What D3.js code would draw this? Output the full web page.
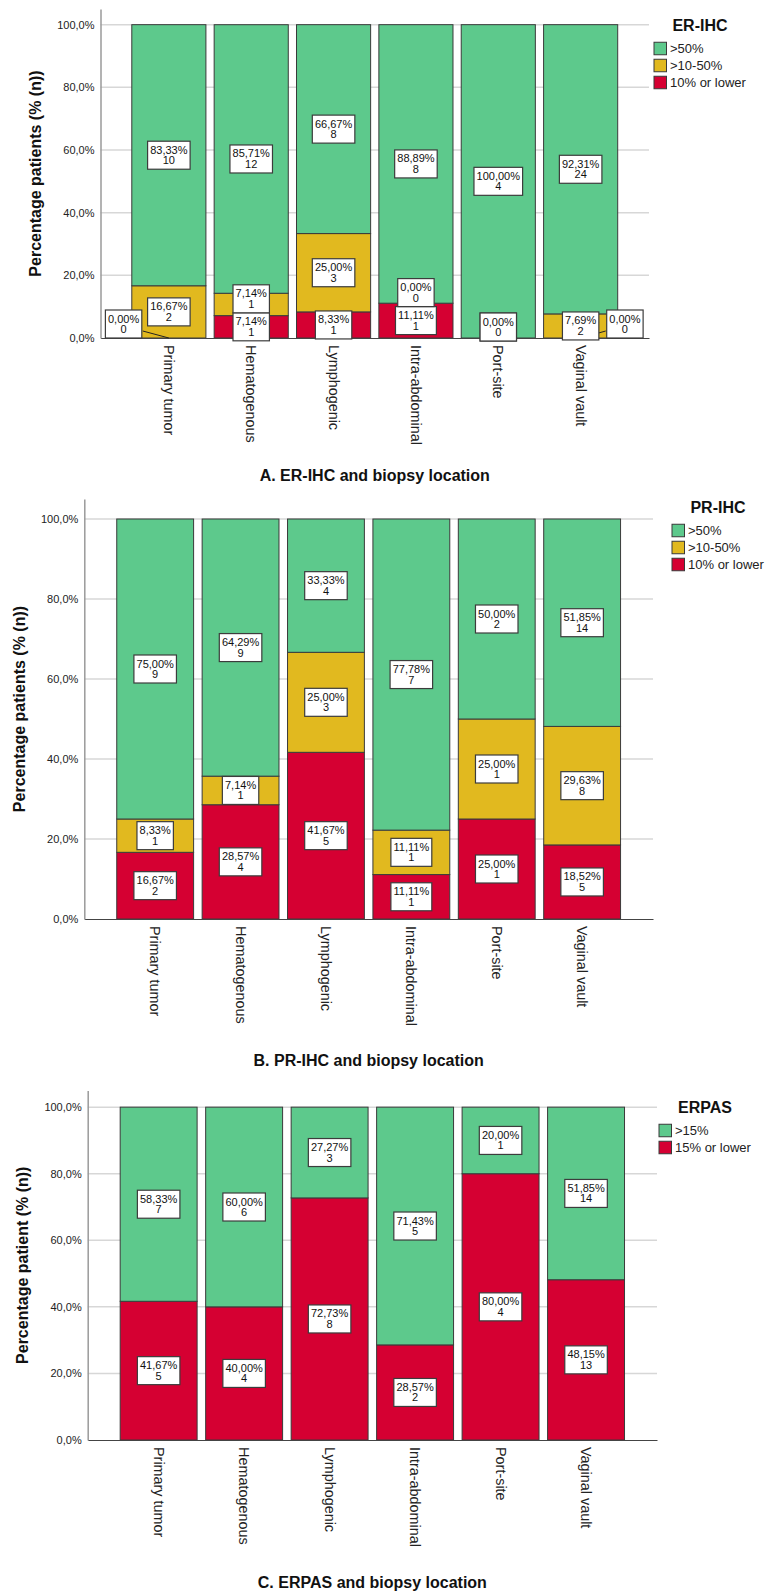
<!DOCTYPE html>
<html>
<head>
<meta charset="utf-8">
<script src="https://cdn.jsdelivr.net/npm/d3@7"></script>
<style>
  body { margin: 0; background: #fff; }
  svg { display: block; }
  text { font-family: "Liberation Sans", Arial, sans-serif; }
</style>
</head>
<body>
<svg id="chart" width="768" height="1591"></svg>
<script>
// ---- data -------------------------------------------------------------
const categories = ["Primary tumor", "Hematogenous", "Lymphogenic", "Intra-abdominal", "Port-site", "Vaginal vault"];
const yTicks = [0, 20, 40, 60, 80, 100];

// ER-IHC
const erLevels = [">50%", ">10-50%", "10% or lower"];
const erHighPct = [83.33, 85.71, 66.67, 88.89, 100.00, 92.31];
const erHighN   = [10, 12, 8, 8, 4, 24];
const erMidPct  = [16.67, 7.14, 25.00, 0.00, 0.00, 7.69];
const erMidN    = [2, 1, 3, 0, 0, 2];
const erLowPct  = [0.00, 7.14, 8.33, 11.11, 0.00, 0.00];
const erLowN    = [0, 1, 1, 1, 0, 0];

// PR-IHC
const prLevels = [">50%", ">10-50%", "10% or lower"];
const prHighPct = [75.00, 64.29, 33.33, 77.78, 50.00, 51.85];
const prHighN   = [9, 9, 4, 7, 2, 14];
const prMidPct  = [8.33, 7.14, 25.00, 11.11, 25.00, 29.63];
const prMidN    = [1, 1, 3, 1, 1, 8];
const prLowPct  = [16.67, 28.57, 41.67, 11.11, 25.00, 18.52];
const prLowN    = [2, 4, 5, 1, 1, 5];

// ERPAS
const erpasLevels = [">15%", "15% or lower"];
const erpasHighPct = [58.33, 60.00, 27.27, 71.43, 20.00, 51.85];
const erpasHighN   = [7, 6, 3, 5, 1, 14];
const erpasLowPct  = [41.67, 40.00, 72.73, 28.57, 80.00, 48.15];
const erpasLowN    = [5, 4, 8, 2, 4, 13];

// ---- styling ----------------------------------------------------------
const GREEN = "#5dc98c", YELLOW = "#e1b91f", RED = "#d50032";

const panels = [
  {
    title: "A. ER-IHC and biopsy location", yTitle: "Percentage patients (% (n))", legendTitle: "ER-IHC",
    series: [ // bottom to top
      { key: "low",  name: erLevels[2], pct: erLowPct,  n: erLowN,  color: RED },
      { key: "mid",  name: erLevels[1], pct: erMidPct,  n: erMidN,  color: YELLOW },
      { key: "high", name: erLevels[0], pct: erHighPct, n: erHighN, color: GREEN }
    ],
    left: 100.5, right: 649, top: 9, bottom: 338,
    legendX: 654, legendTitleY: 25, titleY: 475
  },
  {
    title: "B. PR-IHC and biopsy location", yTitle: "Percentage patients (% (n))", legendTitle: "PR-IHC",
    series: [
      { key: "low",  name: prLevels[2], pct: prLowPct,  n: prLowN,  color: RED },
      { key: "mid",  name: prLevels[1], pct: prMidPct,  n: prMidN,  color: YELLOW },
      { key: "high", name: prLevels[0], pct: prHighPct, n: prHighN, color: GREEN }
    ],
    left: 84.3, right: 653, top: 499, bottom: 919,
    legendX: 672, legendTitleY: 507, titleY: 1060
  },
  {
    title: "C. ERPAS and biopsy location", yTitle: "Percentage patient (% (n))", legendTitle: "ERPAS",
    series: [
      { key: "low",  name: erpasLevels[1], pct: erpasLowPct,  n: erpasLowN,  color: RED },
      { key: "high", name: erpasLevels[0], pct: erpasHighPct, n: erpasHighN, color: GREEN }
    ],
    left: 87.7, right: 657, top: 1090.5, bottom: 1440,
    legendX: 659, legendTitleY: 1107, titleY: 1582
  }
];

const svg = d3.select("#chart");
const loc = d3.formatLocale({ decimal: ",", thousands: ".", grouping: [3], currency: ["", ""] });
const tickFmt = v => loc.format(".1f")(v) + "%";
const pctFmt = v => loc.format(".2f")(v) + "%";

function drawPanel(p) {
  const g = svg.append("g");
  const x = d3.scaleBand().domain(categories).range([p.left, p.right])
    .paddingInner(0.1).paddingOuter(0.38);
  const y = d3.scaleLinear().domain([0, 105]).range([p.bottom, p.top]);

  // gridlines
  g.append("g").selectAll("line").data(yTicks.filter(t => t > 0)).join("line")
    .attr("x1", p.left).attr("x2", p.right)
    .attr("y1", d => y(d)).attr("y2", d => y(d))
    .attr("stroke", "#d7d7d7").attr("stroke-width", 1.5);

  // stacked bars
  const rows = categories.map((c, i) => {
    const r = { cat: c, i };
    p.series.forEach(s => { r[s.key] = s.pct[i]; });
    return r;
  });
  const stacked = d3.stack().keys(p.series.map(s => s.key))(rows);

  stacked.forEach((layer, li) => {
    g.append("g").selectAll("rect").data(layer).join("rect")
      .attr("x", d => x(d.data.cat))
      .attr("width", x.bandwidth())
      .attr("y", d => y(d[1]))
      .attr("height", d => y(d[0]) - y(d[1]))
      .attr("fill", p.series[li].color)
      .attr("stroke", "#3a3a3a").attr("stroke-width", 1);
  });

  // x axis
  const xa = g.append("g").attr("transform", `translate(0,${p.bottom})`)
    .call(d3.axisBottom(x).tickSize(0).tickSizeOuter(0));
  xa.select(".domain").attr("stroke", "#444").attr("stroke-width", 1.2);
  xa.selectAll(".tick text")
    .attr("transform", "rotate(90)")
    .attr("x", 7).attr("y", 0).attr("dy", "0.35em")
    .attr("text-anchor", "start")
    .attr("font-size", 14.4).attr("fill", "#222")
    .attr("font-family", '"Liberation Sans", Arial, sans-serif');

  // y axis
  const ya = g.append("g").attr("transform", `translate(${p.left},0)`)
    .call(d3.axisLeft(y).tickValues(yTicks).tickFormat(tickFmt).tickSize(0).tickSizeOuter(0).tickPadding(6));
  ya.select(".domain").attr("stroke", "#9a9a9a").attr("stroke-width", 1.5);
  ya.selectAll(".tick text").attr("font-size", 11).attr("fill", "#222")
    .attr("font-family", '"Liberation Sans", Arial, sans-serif');

  // value labels
  const labelLayer = g.append("g");
  const H = 28;
  categories.forEach((cat, i) => {
    const cx = x(cat) + x.bandwidth() / 2;
    const barL = x(cat), barR = x(cat) + x.bandwidth();
    const items = stacked.map((layer, li) => {
      const d = layer[i];
      return { v: p.series[li].pct[i], n: p.series[li].n[i], c0: d[0], c1: d[1],
               cx, cy: y((d[0] + d[1]) / 2), side: 0 };
    });
    // keep boxes inside the plot at the bottom
    items.forEach(it => {
      const maxCy = p.bottom + 3 - H / 2;
      if (it.cy > maxCy) it.cy = maxCy;
    });
    // resolve overlaps from the bottom up
    for (let k = 1; k < items.length; k++) {
      const prev = items[k - 1], cur = items[k];
      if (prev.v === 0 && cur.v === 0 && prev.c0 === cur.c0) { cur.cy = prev.cy; continue; }
      if (cur.cy + H / 2 > prev.cy - H / 2) {
        if (prev.v === 0 && prev.c0 === 0 && !prev.side) {
          prev.side = i < categories.length / 2 ? -1 : 1;
          prev.cy = p.bottom - H / 2;
        } else {
          cur.cy = prev.cy - H;
        }
      }
    }
    items.forEach(it => {
      const lg = labelLayer.append("g");
      const t = lg.append("text").attr("font-size", 11).attr("fill", "#111")
        .attr("text-anchor", "middle");
      t.append("tspan").attr("x", 0).attr("y", 0).text(pctFmt(it.v));
      t.append("tspan").attr("x", 0).attr("y", 10.5).text(it.n);
      const w = t.node().getBBox().width + 5;
      let bx = it.cx;
      if (it.side < 0) bx = barL + 10 - w / 2;
      if (it.side > 0) bx = barR - 11 + w / 2;
      const top = it.cy - H / 2;
      if (it.side) {
        const lx = it.side < 0 ? bx + w / 2 + 1 : bx - w / 2 - 1;
        labelLayer.insert("line", ":first-child")
          .attr("x1", lx).attr("y1", top + H - 7)
          .attr("x2", it.cx).attr("y2", p.bottom)
          .attr("stroke", "#222").attr("stroke-width", 1);
      }
      lg.attr("transform", `translate(${bx},${top})`);
      lg.insert("rect", "text")
        .attr("x", -w / 2).attr("y", 0).attr("width", w).attr("height", H)
        .attr("fill", "#fff").attr("stroke", "#3c3c3c").attr("stroke-width", 1.2);
      t.attr("transform", "translate(0,12.5)");
    });
  });

  // legend
  const leg = g.append("g");
  leg.append("text").attr("x", p.legendX + 46).attr("y", p.legendTitleY)
    .attr("dy", "0.35em").attr("text-anchor", "middle")
    .attr("font-size", 16).attr("font-weight", "bold").attr("fill", "#111")
    .text(p.legendTitle);
  const legItems = p.series.slice().reverse();
  legItems.forEach((s, k) => {
    const cy = p.legendTitleY + 23.5 + k * 17;
    leg.append("rect").attr("x", p.legendX).attr("y", cy - 6.25)
      .attr("width", 12.5).attr("height", 12.5)
      .attr("fill", s.color).attr("stroke", "#3a3a3a").attr("stroke-width", 1);
    leg.append("text").attr("x", p.legendX + 16).attr("y", cy).attr("dy", "0.35em")
      .attr("font-size", 13).attr("fill", "#222").text(s.name);
  });

  // axis titles
  g.append("text")
    .attr("transform", `translate(${p.left - 65},${(p.top + p.bottom) / 2}) rotate(-90)`)
    .attr("dy", "0.35em").attr("text-anchor", "middle")
    .attr("font-size", 16).attr("font-weight", "bold").attr("fill", "#111")
    .text(p.yTitle);
  g.append("text")
    .attr("x", (p.left + p.right) / 2).attr("y", p.titleY).attr("dy", "0.35em")
    .attr("text-anchor", "middle")
    .attr("font-size", 16).attr("font-weight", "bold").attr("fill", "#111")
    .text(p.title);
}

panels.forEach(drawPanel);
</script>
</body>
</html>
